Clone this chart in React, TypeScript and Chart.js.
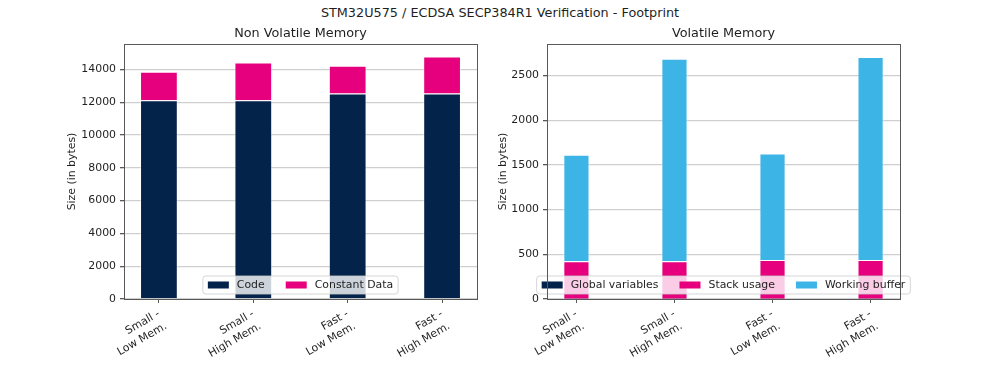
import React, { useEffect, useRef } from "react";
import { Chart, registerables } from "chart.js";

Chart.register(...registerables);

const SUPTITLE = "STM32U575 / ECDSA SECP384R1 Verification - Footprint";
const categories: string[][] = [
  ["Small -", "Low Mem."],
  ["Small -", "High Mem."],
  ["Fast -", "Low Mem."],
  ["Fast -", "High Mem."],
];

const nvTitle = "Non Volatile Memory";
const codeValues = [12120, 12120, 12536, 12536];
const constantDataValues = [1740, 2307, 1690, 2257];
const nvTicks = [0, 2000, 4000, 6000, 8000, 10000, 12000, 14000];

const vTitle = "Volatile Memory";
const globalVarValues = [4, 4, 4, 4];
const stackValues = [418, 418, 433, 433];
const workingBufferValues = [1191, 2265, 1190, 2269];
const vTicks = [0, 500, 1000, 1500, 2000, 2500];

const NAVY = "#03234B";
const PINK = "#E6007E";
const LIGHTBLUE = "#3CB4E6";
const FONT = "'DejaVu Sans', sans-serif";
const TEXT = "#1f1f1f";
const SPINE = "#595959";

const legendPlugin = {
  id: "insideLegend",
  afterDraw(chart: any) {
    const ctx = chart.ctx;
    const a = chart.chartArea;
    const fs = 10.9;
    ctx.save();
    ctx.font = `${fs}px ${FONT}`;
    const items = chart.data.datasets.map((d: any) => ({
      label: d.label,
      color: d.backgroundColor,
      w: ctx.measureText(d.label).width,
    }));
    const pad = 5;
    const patchW = 21;
    const patchH = 7;
    const gap = 8;
    const colSp = 21;
    let total = pad * 2;
    items.forEach((it: any, i: number) => {
      total += patchW + gap + it.w + (i < items.length - 1 ? colSp : 0);
    });
    const h = 18;
    const cx = (a.left + a.right) / 2;
    const x0 = cx - total / 2;
    const y0 = a.bottom - 5 - h;
    ctx.beginPath();
    const r = 3;
    ctx.moveTo(x0 + r, y0);
    ctx.arcTo(x0 + total, y0, x0 + total, y0 + h, r);
    ctx.arcTo(x0 + total, y0 + h, x0, y0 + h, r);
    ctx.arcTo(x0, y0 + h, x0, y0, r);
    ctx.arcTo(x0, y0, x0 + total, y0, r);
    ctx.closePath();
    ctx.fillStyle = "rgba(255,255,255,0.8)";
    ctx.fill();
    ctx.strokeStyle = "rgba(204,204,204,0.8)";
    ctx.lineWidth = 1;
    ctx.stroke();
    let x = x0 + pad;
    const cy = y0 + h / 2;
    items.forEach((it: any) => {
      ctx.fillStyle = it.color;
      ctx.fillRect(x, cy - patchH / 2, patchW, patchH);
      x += patchW + gap;
      ctx.fillStyle = TEXT;
      ctx.textBaseline = "middle";
      ctx.textAlign = "left";
      ctx.fillText(it.label, x, cy + 0.5);
      x += it.w + colSp;
    });
    ctx.restore();
    // spines
    ctx.save();
    ctx.strokeStyle = SPINE;
    ctx.lineWidth = 1;
    ctx.strokeRect(
      Math.round(a.left) + 0.5,
      Math.round(a.top) + 0.5,
      Math.round(a.right - a.left),
      Math.round(a.bottom - a.top)
    );
    ctx.restore();
  },
};

function makeConfig(
  title: string,
  datasets: { label: string; data: number[]; color: string }[],
  yMax: number,
  ticks: number[],
  xMin: number,
  xMax: number,
  barPct: number,
  yWidth: number,
  padding: { left: number; right: number; top: number }
): any {
  return {
    type: "bar",
    data: {
      datasets: datasets.map((d) => ({
        label: d.label,
        data: d.data.map((v, i) => ({ x: i, y: v })),
        backgroundColor: d.color,
        borderColor: "rgba(255,255,255,0.45)",
        borderWidth: 1,
        barPercentage: barPct,
        categoryPercentage: 1,
      })),
    },
    options: {
      responsive: false,
      animation: false,
      devicePixelRatio: 1,
      layout: { padding: { left: padding.left, right: padding.right, top: padding.top, bottom: 0 } },
      plugins: {
        legend: { display: false },
        tooltip: { enabled: false },
        title: {
          display: true,
          text: title,
          fullSize: false,
          color: TEXT,
          font: { family: FONT, size: 12.8, weight: "normal", lineHeight: 1.2 },
          padding: { top: 0, bottom: 2.8 },
        },
      },
      scales: {
        x: {
          type: "linear",
          stacked: true,
          offset: false,
          min: xMin,
          max: xMax,
          afterBuildTicks: (s: any) => {
            s.ticks = categories.map((_, i) => ({ value: i }));
          },
          afterFit: (s: any) => {
            s.height = 76;
          },
          border: { display: false },
          grid: {
            offset: false,
            drawOnChartArea: false,
            drawTicks: true,
            tickLength: 4,
            tickColor: SPINE,
          },
          ticks: {
            autoSkip: false,
            minRotation: 30,
            maxRotation: 30,
            padding: 4,
            color: TEXT,
            font: { family: FONT, size: 10.9, lineHeight: 1.3 },
            callback: (v: number) => categories[Math.round(v)] ?? "",
          },
        },
        y: {
          type: "linear",
          stacked: true,
          min: 0,
          max: yMax,
          z: 1,
          afterBuildTicks: (s: any) => {
            s.ticks = ticks.map((v) => ({ value: v }));
          },
          afterFit: (s: any) => {
            s.width = yWidth;
          },
          border: { display: false },
          grid: {
            color: "rgba(160,160,160,0.5)",
            lineWidth: 1.3,
            tickColor: SPINE,
            tickLength: 4,
          },
          ticks: {
            padding: 4,
            color: TEXT,
            font: { family: FONT, size: 10.9 },
            callback: (v: number) => String(v),
          },
          title: {
            display: true,
            text: "Size (in bytes)",
            color: TEXT,
            font: { family: FONT, size: 10.9, lineHeight: 1.2 },
            padding: { top: 4, bottom: 4 },
          },
        },
      },
    },
    plugins: [legendPlugin],
  };
}

function ChartCanvas(props: { config: any; left: number; width: number }) {
  const ref = useRef<HTMLCanvasElement | null>(null);
  useEffect(() => {
    if (!ref.current) return;
    const chart = new Chart(ref.current, props.config);
    return () => chart.destroy();
  }, []);
  return (
    <canvas
      ref={ref}
      width={props.width}
      height={375}
      style={{ position: "absolute", left: props.left, top: 0, width: props.width, height: 375 }}
    />
  );
}

export default function App() {
  const nvConfig = makeConfig(
    nvTitle,
    [
      { label: "Code", data: codeValues, color: NAVY },
      { label: "Constant Data", data: constantDataValues, color: PINK },
    ],
    15560,
    nvTicks,
    -0.37,
    3.37,
    0.4,
    62.4,
    { left: 61.6, right: 23, top: 25.8 }
  );
  const vConfig = makeConfig(
    vTitle,
    [
      { label: "Global variables", data: globalVarValues, color: NAVY },
      { label: "Stack usage", data: stackValues, color: PINK },
      { label: "Working buffer", data: workingBufferValues, color: LIGHTBLUE },
    ],
    2853,
    vTicks,
    -0.3,
    3.3,
    0.267,
    54.4,
    { left: 52.6, right: 100, top: 25.8 }
  );
  return (
    <div style={{ position: "absolute", left: 0, top: 0, width: 1000, height: 375, background: "#fff" }}>
      <div
        style={{
          position: "absolute",
          left: 0,
          top: 5,
          width: 1000,
          height: 16,
          lineHeight: "16px",
          textAlign: "center",
          fontFamily: FONT,
          fontSize: 12.8,
          color: TEXT,
        }}
      >
        {SUPTITLE}
      </div>
      <ChartCanvas config={nvConfig} left={0} width={500} />
      <ChartCanvas config={vConfig} left={440} width={560} />
    </div>
  );
}
